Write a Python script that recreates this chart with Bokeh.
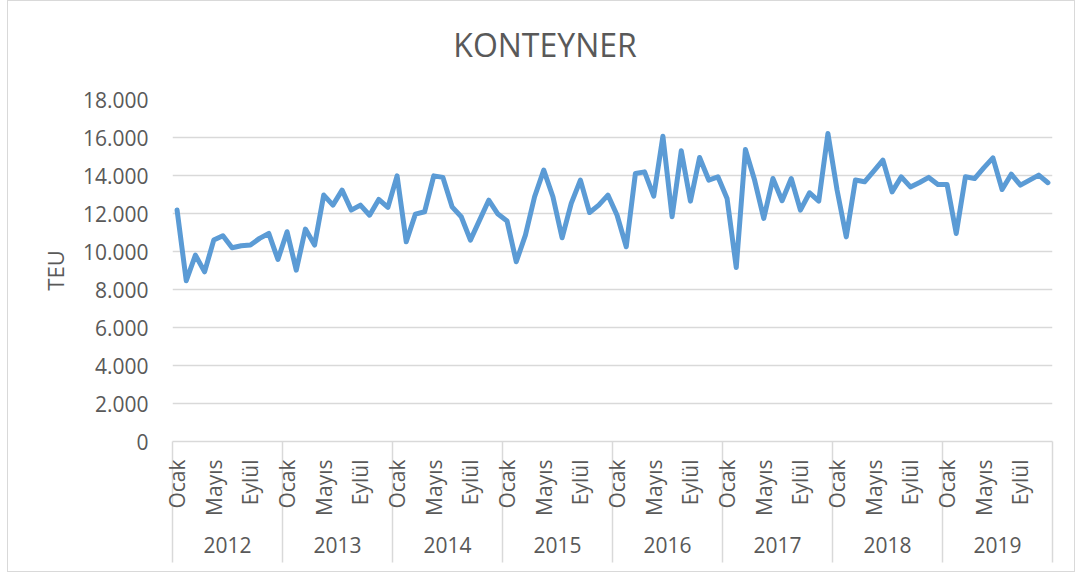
import math
from bokeh.plotting import figure
from bokeh.models import (LinearAxis, FixedTicker, Range1d, ColumnDataSource)
from bokeh.embed import file_html
from bokeh.resources import INLINE

# ---------------- data ----------------
years = ["2012", "2013", "2014", "2015", "2016", "2017", "2018", "2019"]
month_names = ["Ocak", "Şubat", "Mart", "Nisan", "Mayıs", "Haziran",
               "Temmuz", "Ağustos", "Eylül", "Ekim", "Kasım", "Aralık"]
shown_months = ["Ocak", "Mayıs", "Eylül"]

teu_2012 = [12180, 8460, 9810, 8930, 10600, 10830, 10200, 10300, 10340, 10690, 10950, 9580]
teu_2013 = [11040, 9020, 11180, 10340, 12970, 12440, 13230, 12180, 12440, 11910, 12740, 12320]
teu_2014 = [13980, 10510, 11970, 12090, 13980, 13900, 12350, 11830, 10600, 11650, 12700, 11970]
teu_2015 = [11600, 9460, 10860, 12880, 14280, 12880, 10720, 12530, 13760, 12050, 12440, 12970]
teu_2016 = [11910, 10250, 14110, 14190, 12910, 16070, 11830, 15300, 12650, 14950, 13760, 13930]
teu_2017 = [12790, 9160, 15370, 13760, 11740, 13840, 12670, 13840, 12180, 13090, 12650, 16210]
teu_2018 = [13230, 10770, 13760, 13670, 14230, 14810, 13140, 13930, 13400, 13630, 13900, 13530]
teu_2019 = [13530, 10950, 13930, 13840, 14400, 14930, 13260, 14070, 13490, 13760, 14020, 13620]

y_ticks = [0, 2000, 4000, 6000, 8000, 10000, 12000, 14000, 16000, 18000]
y_tick_labels = ["0", "2.000", "4.000", "6.000", "8.000", "10.000",
                 "12.000", "14.000", "16.000", "18.000"]

title_text = "KONTEYNER"
y_label = "TEU"

# ---------------- build ----------------
all_values = (teu_2012 + teu_2013 + teu_2014 + teu_2015 +
              teu_2016 + teu_2017 + teu_2018 + teu_2019)
n_months = len(month_names)
n = len(all_values)
xs = [i + 0.5 for i in range(n)]
src = ColumnDataSource(dict(x=xs, y=all_values))

FONT = "Open Sans"
TXT = "#595959"
GRID = "#d9d9d9"

p = figure(width=1068, height=572, output_backend="svg", toolbar_location=None,
           x_axis_type=None, x_range=Range1d(0, n), y_range=Range1d(0, 18000),
           min_border_left=164, min_border_right=24, min_border_top=98,
           min_border_bottom=132)
p.outline_line_color = None
p.background_fill_color = "white"
p.border_fill_color = "white"
p.styles = {"border": "1.5px solid #d9d9d9", "margin-left": "7px"}

# chart title, centred over the whole chart box (not just the plot area)
title_x = round(n * 0.4233, 2)
title_ax = LinearAxis(ticker=FixedTicker(ticks=[title_x], minor_ticks=[]),
                      major_label_overrides={title_x: title_text},
                      major_label_standoff=34,
                      major_label_text_font=FONT, major_label_text_font_size="32px",
                      major_label_text_color=TXT,
                      axis_line_color=None, major_tick_line_color=None,
                      minor_tick_line_color=None, major_tick_out=0, major_tick_in=0)
p.add_layout(title_ax, "above")

# y axis
yax = p.yaxis[0]
yax.ticker = FixedTicker(ticks=y_ticks)
yax.major_label_overrides = {v: s for v, s in zip(y_ticks, y_tick_labels)}
yax.axis_line_color = None
yax.major_tick_line_color = None
yax.minor_tick_line_color = None
yax.major_label_standoff = 18
yax.major_label_text_font = FONT
yax.major_label_text_font_size = "21px"
yax.major_label_text_color = TXT
yax.axis_label = y_label
yax.axis_label_text_font = FONT
yax.axis_label_text_font_size = "22px"
yax.axis_label_text_font_style = "normal"
yax.axis_label_text_color = TXT
yax.axis_label_standoff = 10
p.ygrid.grid_line_color = GRID
p.ygrid.grid_line_width = 1.5
p.ygrid.ticker = FixedTicker(ticks=y_ticks)

# month axis (minor ticks = year separators)
SEP_LEN = 121
month_ticks, month_over = [], {}
for yi in range(len(years)):
    for mi, m in enumerate(month_names):
        if m in shown_months:
            t = yi * n_months + mi + 0.5
            month_ticks.append(t)
            month_over[t] = m
boundaries = [yi * n_months for yi in range(len(years) + 1)]
max_ax = LinearAxis(ticker=FixedTicker(ticks=month_ticks, minor_ticks=boundaries),
                    major_label_overrides=month_over,
                    major_label_orientation=math.pi / 2,
                    major_label_standoff=18 - SEP_LEN,
                    major_label_text_font=FONT, major_label_text_font_size="21px",
                    major_label_text_color=TXT,
                    axis_line_color=GRID, axis_line_width=1.5,
                    major_tick_line_color=None,
                    major_tick_out=0, major_tick_in=0,
                    minor_tick_line_color=GRID, minor_tick_line_width=1.5,
                    minor_tick_out=SEP_LEN, minor_tick_in=0)
p.add_layout(max_ax, "below")

# year axis
year_ticks = [yi * n_months + n_months / 2 for yi in range(len(years))]
year_ax = LinearAxis(ticker=FixedTicker(ticks=year_ticks, minor_ticks=[]),
                     major_label_overrides={t: y for t, y in zip(year_ticks, years)},
                     major_label_standoff=18,
                     major_label_text_font=FONT, major_label_text_font_size="21px",
                     major_label_text_color=TXT,
                     axis_line_color=None, major_tick_line_color=None,
                     minor_tick_line_color=None, major_tick_out=0, major_tick_in=0)
p.add_layout(year_ax, "below")

p.line("x", "y", source=src, line_color="#5b9bd5", line_width=5,
       line_join="round", line_cap="round")

open("out.html", "w").write(file_html(p, INLINE))
